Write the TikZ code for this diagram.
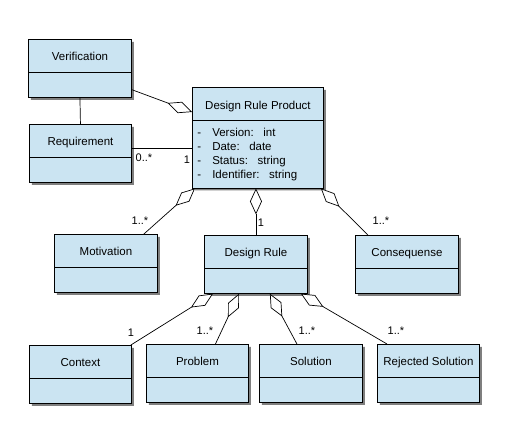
\documentclass[tikz,border=0pt]{standalone}
\usepackage{fontspec}
\setmainfont{Liberation Sans}
\usepackage{tikz}
\usetikzlibrary{arrows.meta, calc, shapes.multipart, shadows}
\definecolor{classblue}{RGB}{203,228,242}

\newcommand{\ttl}[1]{\rule[-3pt]{0pt}{15pt}#1}

\begin{document}
\begin{tikzpicture}[x=1pt, y=-1pt,
		umlclass/.style={rectangle split, rectangle split parts=2, draw, line width=0.9pt,
			fill=classblue, minimum width=103pt, inner xsep=5pt, inner ysep=8.5pt,
			rectangle split empty part height=7pt, rectangle split empty part depth=0pt,
			font=\fontsize{11.5}{14}\selectfont, anchor=north west,
			drop shadow={shadow xshift=2.5pt, shadow yshift=-2.5pt, fill=black, opacity=0.5}},
		lbl/.style={font=\fontsize{11}{12}\selectfont, inner sep=0pt},
		agg/.style={line width=0.7pt, -{Diamond[fill=white, length=26pt, width=12pt]}}]
	\useasboundingbox (0,0) rectangle (507,431);
	
	% Classes
	\node[umlclass] (verif) at (28,39) {\ttl{Verification}};
	\node[umlclass, minimum width=102pt] (req) at (29,124) {\ttl{Requirement}};
	\node[umlclass, minimum width=131pt, inner ysep=7pt, align=left,
		rectangle split part align={center,left}] (drp) at (192,87)
		{\rule[-3pt]{0pt}{18pt}Design Rule Product
		\nodepart{two}
		-\hspace{11pt}Version:\hspace{9.5pt}int\\
		-\hspace{11pt}Date:\hspace{9.5pt}date\\
		-\hspace{11pt}Status:\hspace{9.5pt}string\\
		-\hspace{11pt}Identifier:\hspace{9.5pt}string};
	\node[umlclass] (mot) at (54,234) {\ttl{Motivation}};
	\node[umlclass] (dr) at (204,235) {\ttl{Design Rule}};
	\node[umlclass] (cons) at (355,235) {\ttl{Consequense}};
	\node[umlclass, minimum width=102pt] (ctx) at (29,345) {\ttl{Context}};
	\node[umlclass, minimum width=102pt] (prob) at (146,344) {\ttl{Problem}};
	\node[umlclass] (sol) at (259,344) {\ttl{Solution}};
	\node[umlclass, minimum width=102pt] (rej) at (377,344) {\ttl{Rejected Solution}};
	
	% Connectors
	\draw[line width=0.7pt] (verif.south) -- (req.north);
	\draw[agg] ([yshift=8pt]verif.south east) -- ([yshift=-25pt]drp.north west);
	\coordinate (reqa) at ([yshift=5pt]req.east);
	\draw[line width=0.7pt] (reqa) -- (reqa -| drp.west);
	\draw[agg] ([xshift=-14pt]mot.north east) -- ([xshift=3pt]drp.south west);
	\draw[agg] (dr.north) -- (dr.north |- drp.south);
	\draw[agg] ([xshift=13pt]cons.north west) -- ([xshift=-3pt]drp.south east);
	\draw[agg] ([xshift=-1pt]ctx.north east) -- ([xshift=9pt]dr.south west);
	\draw[agg] ([xshift=18pt]prob.north) -- ([xshift=35pt]dr.south west);
	\draw[agg] ([xshift=-14pt]sol.north) -- ([xshift=-38pt]dr.south east);
	\draw[agg] ([xshift=10pt]rej.north west) -- ([xshift=-7pt]dr.south east);
	
	% Multiplicities
	\node[lbl] (lreq) at (144,158) {0..*};
	\node[lbl] (ldrp) at (187,160) {1};
	\node[lbl] (lmot) at (140,221) {1..*};
	\node[lbl] (ldr) at (261,223) {1};
	\node[lbl] (lcons) at (381,221) {1..*};
	\node[lbl] (lctx) at (131,333) {1};
	\node[lbl] (lprob) at (205,331) {1..*};
	\node[lbl] (lsol) at (307,331) {1..*};
	\node[lbl] (lrej) at (396,331) {1..*};
\end{tikzpicture}
\end{document}
